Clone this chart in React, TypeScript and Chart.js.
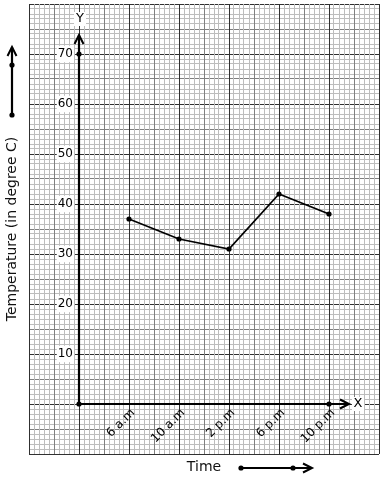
import React, { useEffect, useRef } from "react";
import { Chart, registerables } from "chart.js";

Chart.register(...registerables);

// ---- data ----
const CATEGORIES = ["6 a.m", "10 a.m", "2 p.m", "6 p.m", "10 p.m"];
const TEMPERATURES = [37, 33, 31, 42, 38];
const Y_TICK_LABELS = [10, 20, 30, 40, 50, 60, 70];
// marked points on the axes: origin, 70 on the y-axis, last category on x-axis
const AXIS_MARK_X = [0, 0, 5];
const AXIS_MARK_Y = [0, 70, 0];

// ---- scale ranges ----
const X_MIN = -1;
const X_MAX = 6;
const Y_MIN = -10;
const Y_MAX = 80;
const X_AXIS_END = 5.4;
const Y_AXIS_END = 73.8;

const DARK = "#303030";
const MID = "#808080";
const LIGHT = "#bdbdbd";

const axesPlugin = {
  id: "axesArrows",
  beforeDatasetsDraw(chart: any) {
    const { ctx, scales } = chart;
    const x = scales.x;
    const y = scales.y;
    const ox = x.getPixelForValue(0);
    const oy = y.getPixelForValue(0);
    const xe = x.getPixelForValue(X_AXIS_END);
    const ye = y.getPixelForValue(Y_AXIS_END);
    ctx.save();
    ctx.strokeStyle = "#000";
    ctx.lineWidth = 2.2;
    ctx.beginPath();
    ctx.moveTo(ox, oy);
    ctx.lineTo(xe, oy);
    ctx.moveTo(ox, oy);
    ctx.lineTo(ox, ye);
    ctx.stroke();
    ctx.lineWidth = 2;
    ctx.lineJoin = "miter";
    ctx.beginPath();
    ctx.moveTo(xe - 9, oy - 4.5);
    ctx.lineTo(xe, oy);
    ctx.lineTo(xe - 9, oy + 4.5);
    ctx.moveTo(ox - 4.5, ye + 9);
    ctx.lineTo(ox, ye);
    ctx.lineTo(ox + 4.5, ye + 9);
    ctx.stroke();
    ctx.fillStyle = "#fff";
    ctx.fillRect(xe + 3, oy - 7, 12, 14);
    ctx.fillRect(ox - 5, ye - 23, 12, 14);
    ctx.fillStyle = "#000";
    ctx.font = "13px 'DejaVu Sans'";
    ctx.textAlign = "center";
    ctx.textBaseline = "middle";
    ctx.fillText("X", xe + 9, oy);
    ctx.fillText("Y", ox + 1, ye - 16);
    ctx.restore();
  },
  afterDraw(chart: any) {
    const { ctx } = chart;
    ctx.save();
    ctx.strokeStyle = "#000";
    ctx.fillStyle = "#000";
    // left decorative arrow
    ctx.lineWidth = 2.2;
    ctx.beginPath();
    ctx.moveTo(12, 115);
    ctx.lineTo(12, 47);
    ctx.stroke();
    ctx.lineWidth = 2;
    ctx.beginPath();
    ctx.moveTo(7.5, 56);
    ctx.lineTo(12, 47);
    ctx.lineTo(16.5, 56);
    ctx.stroke();
    for (const py of [65, 115]) {
      ctx.beginPath();
      ctx.arc(12, py, 2.6, 0, Math.PI * 2);
      ctx.fill();
    }
    // bottom decorative arrow
    ctx.lineWidth = 2;
    ctx.beginPath();
    ctx.moveTo(241, 468);
    ctx.lineTo(312, 468);
    ctx.stroke();
    ctx.beginPath();
    ctx.moveTo(303, 463.5);
    ctx.lineTo(312, 468);
    ctx.lineTo(303, 472.5);
    ctx.stroke();
    for (const px of [241, 293]) {
      ctx.beginPath();
      ctx.arc(px, 468, 2.6, 0, Math.PI * 2);
      ctx.fill();
    }
    ctx.restore();
  },
};

function xGridColor(c: any) {
  const v = c.tick ? c.tick.value : 0;
  const n = Math.round(v * 10);
  if (n % 10 === 0) return DARK;
  if (n % 5 === 0) return MID;
  return LIGHT;
}

function yGridColor(c: any) {
  const v = c.tick ? Math.round(c.tick.value) : 0;
  if (v % 10 === 0) return DARK;
  if (v % 5 === 0) return MID;
  return LIGHT;
}

function noPadding(scale: any) {
  scale.paddingTop = 0;
  scale.paddingBottom = 0;
  scale.paddingLeft = 0;
  scale.paddingRight = 0;
}

export default function App() {
  const ref = useRef<HTMLCanvasElement | null>(null);

  useEffect(() => {
    if (!ref.current) return;
    Chart.defaults.font.family = "'DejaVu Sans'";
    Chart.defaults.color = "#000";
    const chart = new Chart(ref.current, {
      type: "scatter",
      data: {
        datasets: [
          {
            label: "Temperature",
            data: CATEGORIES.map((_, i) => ({ x: i + 1, y: TEMPERATURES[i] })),
            showLine: true,
            borderColor: "#000",
            borderWidth: 1.7,
            pointRadius: 2.6,
            pointBackgroundColor: "#000",
            pointBorderWidth: 0,
            xAxisID: "x",
            yAxisID: "y",
          },
          {
            label: "Axis marks",
            data: AXIS_MARK_X.map((xv, i) => ({ x: xv, y: AXIS_MARK_Y[i] })),
            showLine: false,
            pointRadius: 2.6,
            pointBackgroundColor: "#000",
            pointBorderWidth: 0,
            xAxisID: "x",
            yAxisID: "y",
          },
        ],
      },
      options: {
        responsive: false,
        animation: false,
        events: [],
        layout: { padding: { left: 0, right: 5, top: 4, bottom: 0.6 } },
        plugins: { legend: { display: false }, tooltip: { enabled: false } },
        scales: {
          y: {
            type: "linear",
            position: "left",
            min: Y_MIN,
            max: Y_MAX,
            ticks: { display: false, stepSize: 1, autoSkip: false },
            grid: { color: yGridColor, lineWidth: 1, drawTicks: false, z: -2 },
            border: { display: false },
            title: {
              display: true,
              text: "Temperature (in degree C)",
              font: { size: 14, family: "'DejaVu Sans'" },
              color: "#111",
              padding: { top: 3.6, bottom: 8.6 },
            },
          },
          x: {
            type: "linear",
            position: "bottom",
            min: X_MIN,
            max: X_MAX,
            ticks: { display: false, stepSize: 0.1, autoSkip: false },
            grid: { color: xGridColor, lineWidth: 1, drawTicks: false, z: -1 },
            border: { display: false },
            title: {
              display: true,
              text: "Time",
              font: { size: 14, family: "'DejaVu Sans'" },
              color: "#111",
              padding: { top: 4.6, bottom: 4 },
            },
          },
          xl: {
            type: "linear",
            axis: "x",
            position: { y: 0 },
            min: X_MIN,
            max: X_MAX,
            afterFit: noPadding,
            grid: { display: false, drawTicks: false },
            border: { display: false },
            ticks: {
              stepSize: 1,
              autoSkip: false,
              minRotation: 45,
              maxRotation: 45,
              padding: 2,
              labelOffset: 4,
              font: { size: 12 },
              color: "#000",
              callback: (v: any) => {
                const n = Math.round(Number(v));
                return n >= 1 && n <= CATEGORIES.length ? CATEGORIES[n - 1] : null;
              },
            },
          },
          yl: {
            type: "linear",
            axis: "y",
            position: { x: -0.12 },
            min: Y_MIN,
            max: Y_MAX,
            afterFit: noPadding,
            grid: { display: false, drawTicks: false },
            border: { display: false },
            ticks: {
              stepSize: 10,
              autoSkip: false,
              font: { size: 12 },
              color: "#000",
              showLabelBackdrop: true,
              backdropColor: "#fff",
              backdropPadding: 1,
              callback: (v: any) => {
                const n = Math.round(Number(v));
                return Y_TICK_LABELS.includes(n) ? String(n) : null;
              },
            },
          },
        },
      } as any,
      plugins: [axesPlugin],
    });
    return () => chart.destroy();
  }, []);

  return (
    <div style={{ position: "absolute", left: 0, top: 0, width: 384, height: 480, background: "#fff" }}>
      <canvas ref={ref} width={384} height={480} />
    </div>
  );
}
